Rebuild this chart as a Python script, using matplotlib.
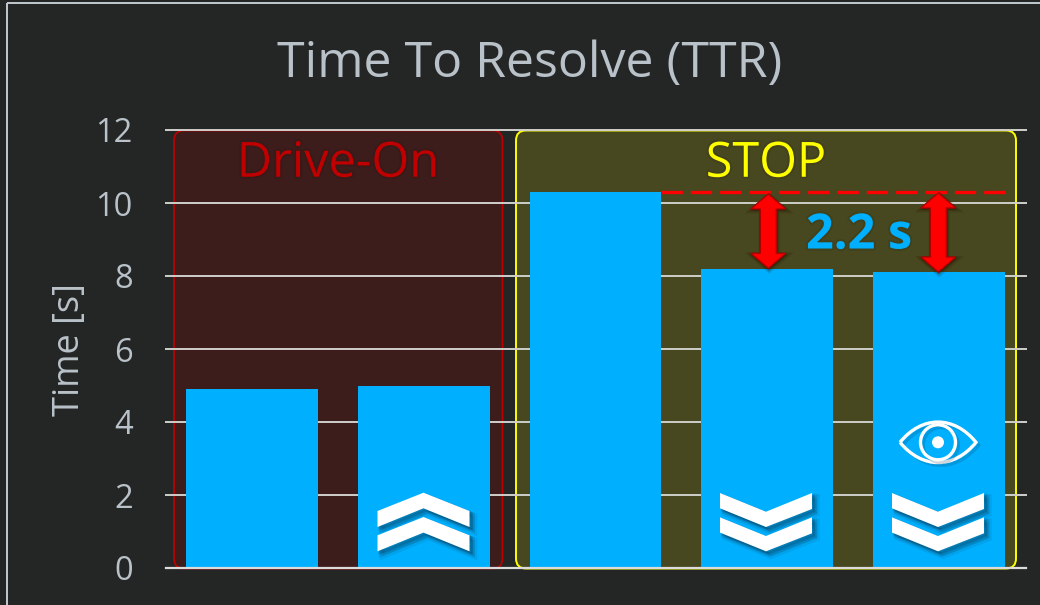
import matplotlib
matplotlib.use('Agg')
import matplotlib.pyplot as plt
import matplotlib.patheffects as pe
import numpy as np
from matplotlib.patches import Circle, FancyBboxPatch, PathPatch, Polygon, Rectangle
from matplotlib.path import Path
from matplotlib.transforms import Affine2D

categories = ['a', 'b', 'c', 'd', 'e']
ttr_values = [4.9, 5.0, 10.3, 8.2, 8.1]
y_ticks = [0, 2, 4, 6, 8, 10, 12]

BG = '#242625'
TEXT = '#b9c1c9'
BLUE = '#00b0ff'
GRID = '#cfcfcb'
W, H = 1040, 605

plt.rcParams['font.family'] = ['Open Sans', 'DejaVu Sans']

fig = plt.figure(figsize=(W / 100, H / 100), dpi=100, facecolor=BG)
ax = fig.add_axes([166 / W, 1 - 568 / H, 860 / W, 438 / H], facecolor='none')

# everything that is not data is placed in image pixels (y pointing down)
px = Affine2D().scale(1, -1).translate(0, H)


def soft_shadow(verts, dx=5, dy=5, color='#0a3a55', zorder=5):
    for grow, alpha in ((1.0, 0.10), (0.7, 0.16), (0.4, 0.22)):
        poly = Polygon(np.array(verts) + [dx * grow, dy * grow], closed=True, fc=color, ec=color,
                       lw=4 * grow, alpha=alpha, transform=px, clip_on=False, zorder=zorder)
        ax.add_patch(poly)


def chevrons(cx, top, up):
    # two stacked chevrons, 92 px wide
    for shift in (0, 24.3):
        if up:
            v = [(-46, 18.3), (0, 0), (46, 18.3), (46, 34.3), (0, 15.6), (-46, 34.3)]
        else:
            v = [(-46, 0), (0, 18.7), (46, 0), (46, 16), (0, 34), (-46, 15.3)]
        v = [(cx + a, top + shift + b) for a, b in v]
        soft_shadow(v)
        ax.add_patch(Polygon(v, closed=True, fc='white', ec='none', transform=px,
                             clip_on=False, zorder=6))


def red_arrow(cx, top, bottom):
    hw, sw, hl = 17.5, 8, 15
    v = [(cx, top), (cx + hw, top + hl), (cx + sw, top + hl), (cx + sw, bottom - hl),
         (cx + hw, bottom - hl), (cx, bottom), (cx - hw, bottom - hl), (cx - sw, bottom - hl),
         (cx - sw, top + hl), (cx - hw, top + hl)]
    soft_shadow(v, dx=1, dy=2, color='#201000', zorder=7)
    ax.add_patch(Polygon(v, closed=True, fc='#ff0000', ec='#b00000', lw=1.0, transform=px,
                         clip_on=False, zorder=8, joinstyle='miter'))


def eye(cx, cy):
    hw, hh = 38, 27
    verts = [(cx - hw, cy), (cx - 16, cy - hh), (cx + 16, cy - hh), (cx + hw, cy),
             (cx + 16, cy + hh), (cx - 16, cy + hh), (cx - hw, cy)]
    codes = [Path.MOVETO, Path.CURVE4, Path.CURVE4, Path.CURVE4, Path.CURVE4, Path.CURVE4, Path.CURVE4]
    shadow = [pe.SimpleLineShadow(offset=(2, -2), shadow_color='#0a3a55', alpha=0.2), pe.Normal()]
    ax.add_patch(PathPatch(Path(verts, codes), fc='none', ec='white', lw=2.4, transform=px,
                           clip_on=False, zorder=6, path_effects=shadow))
    ax.add_patch(Circle((cx, cy), 17.5, fc='none', ec='white', lw=2.4, transform=px,
                        clip_on=False, zorder=6, path_effects=shadow))
    ax.add_patch(Circle((cx, cy), 6, fc='white', ec='none', transform=px,
                        clip_on=False, zorder=6))


# outer frame runs off the right and bottom of the picture
fig.add_artist(Rectangle((7, 3), W + 40, H + 40, fc='none', ec='#c3cad0', lw=1.4,
                         transform=px))

# group panels
panel_style = 'round,pad=0,rounding_size=10'
ax.add_patch(FancyBboxPatch((174, 130.5), 328.5, 438, boxstyle=panel_style, fc='#3d1d1b',
                            ec='#c00000', lw=1.2, transform=px, clip_on=False, zorder=1))
ax.add_patch(FancyBboxPatch((516, 130.5), 500, 438, boxstyle=panel_style, fc='#47481f',
                            ec='#ffff00', lw=1.4, transform=px, clip_on=False, zorder=1))

x = np.arange(len(categories))
ax.set_xlim(-0.5, 4.507)
ax.set_ylim(0, 12)
ax.set_yticks(y_ticks)
ax.set_xticks([])
ax.grid(axis='y', color=GRID, lw=1.4, zorder=2)
ax.set_axisbelow(False)
for line in ax.get_ygridlines():
    line.set_zorder(2)
    line.set_clip_on(False)
ax.bar(x, ttr_values, width=0.767, color=BLUE, zorder=3)
for s in ['top', 'right', 'left']:
    ax.spines[s].set_visible(False)
ax.spines['bottom'].set_color('#dcdcdc')
ax.spines['bottom'].set_linewidth(1.6)
ax.spines['bottom'].set_zorder(4)
ax.tick_params(axis='y', length=0, pad=24, labelsize=23.5, labelcolor=TEXT)

ax.plot([2.383, 4.383], [ttr_values[2], ttr_values[2]], color='#ff0000', lw=2.4,
        dashes=(6.4, 2.4), dash_capstyle='butt', zorder=4)

fig.text(530 / W, 1 - 64 / H, 'Time To Resolve (TTR)', color=TEXT, fontsize=36,
         ha='center', va='center')
fig.text(70 / W, 1 - 350 / H, 'Time [s]', color=TEXT, fontsize=26, rotation=90,
         ha='center', va='center')

glow = [pe.withStroke(linewidth=3, foreground='#000000', alpha=0.08)]
ax.text(338, 164, 'Drive-On', color='#c00000', fontsize=35, ha='center', va='center',
        transform=px, zorder=6, path_effects=glow)
ax.text(766, 164, 'STOP', color='#ffff00', fontsize=35, ha='center', va='center',
        transform=px, zorder=6, path_effects=glow)
ax.text(859, 236, '2.2 s', color=BLUE, fontsize=35, fontweight='bold', ha='center',
        va='center', transform=px, zorder=6, path_effects=glow)

red_arrow(768.3, 194, 268.3)
red_arrow(938.3, 193, 272)
chevrons(423.5, 492.7, True)
chevrons(766, 493, False)
chevrons(938, 493, False)
eye(938, 442.3)

fig.savefig('out.png', dpi=100, facecolor=BG)
